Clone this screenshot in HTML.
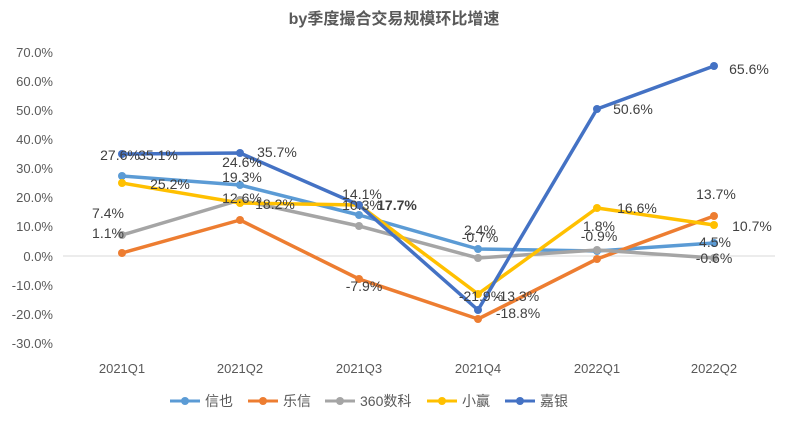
<!DOCTYPE html>
<html><head><meta charset="utf-8"><style>
body{margin:0;background:#fff}
svg text{font-family:"Liberation Sans","Noto Sans CJK SC",sans-serif}
</style></head><body>
<svg width="789" height="425" viewBox="0 0 789 425" xmlns="http://www.w3.org/2000/svg">
<rect width="789" height="425" fill="#fff"/>
<text x="394" y="24" text-anchor="middle" font-size="16" font-weight="bold" fill="#595959">by季度撮合交易规模环比增速</text>
<g font-size="13" fill="#595959" text-anchor="end">
<text x="53" y="57">70.0%</text><text x="53" y="86">60.0%</text><text x="53" y="115">50.0%</text><text x="53" y="144">40.0%</text><text x="53" y="173">30.0%</text><text x="53" y="202">20.0%</text><text x="53" y="231">10.0%</text><text x="53" y="261">0.0%</text><text x="53" y="290">-10.0%</text><text x="53" y="319">-20.0%</text><text x="53" y="348">-30.0%</text>
</g>
<line x1="63" y1="256" x2="775" y2="256" stroke="#d9d9d9" stroke-width="1"/>
<g font-size="13" fill="#595959" text-anchor="middle">
<text x="122" y="373">2021Q1</text><text x="240" y="373">2021Q2</text><text x="359" y="373">2021Q3</text><text x="478" y="373">2021Q4</text><text x="597" y="373">2022Q1</text><text x="714" y="373">2022Q2</text>
</g>
<g fill="none" stroke-width="3.5" stroke-linejoin="round">
<polyline stroke="#5B9BD5" points="122,176 240,185 359,215 478,249 597,251 714,243"/>
<polyline stroke="#ED7D31" points="122,253 240,220 359,279 478,319 597,259 714,216"/>
<polyline stroke="#A5A5A5" points="122,235 240,200 359,226 478,258 597,250 714,258"/>
<polyline stroke="#FFC000" points="122,183 240,203 359,205 478,294 597,208 714,225"/>
<polyline stroke="#4472C4" points="122,154 240,153 359,205 478,310 597,109 714,66"/>
</g>
<g fill="#5B9BD5"><circle cx="122" cy="176" r="4"/><circle cx="240" cy="185" r="4"/><circle cx="359" cy="215" r="4"/><circle cx="478" cy="249" r="4"/><circle cx="597" cy="251" r="4"/><circle cx="714" cy="243" r="4"/></g>
<g fill="#ED7D31"><circle cx="122" cy="253" r="4"/><circle cx="240" cy="220" r="4"/><circle cx="359" cy="279" r="4"/><circle cx="478" cy="319" r="4"/><circle cx="597" cy="259" r="4"/><circle cx="714" cy="216" r="4"/></g>
<g fill="#A5A5A5"><circle cx="122" cy="235" r="4"/><circle cx="240" cy="200" r="4"/><circle cx="359" cy="226" r="4"/><circle cx="478" cy="258" r="4"/><circle cx="597" cy="250" r="4"/><circle cx="714" cy="258" r="4"/></g>
<g fill="#FFC000"><circle cx="122" cy="183" r="4"/><circle cx="240" cy="203" r="4"/><circle cx="359" cy="205" r="4"/><circle cx="478" cy="294" r="4"/><circle cx="597" cy="208" r="4"/><circle cx="714" cy="225" r="4"/></g>
<g fill="#4472C4"><circle cx="122" cy="154" r="4"/><circle cx="240" cy="153" r="4"/><circle cx="359" cy="205" r="4"/><circle cx="478" cy="310" r="4"/><circle cx="597" cy="109" r="4"/><circle cx="714" cy="66" r="4"/></g>
<g font-size="14" fill="#404040" text-anchor="middle">
<text x="120" y="160">27.6%</text><text x="158" y="160">35.1%</text><text x="170" y="189">25.2%</text><text x="108" y="218">7.4%</text><text x="108" y="238">1.1%</text>
<text x="242" y="167">24.6%</text><text x="277" y="157">35.7%</text><text x="242" y="182">19.3%</text><text x="242" y="203">12.6%</text><text x="275" y="209">18.2%</text>
<text x="362" y="199">14.1%</text><text x="362" y="210">10.3%</text><text x="397" y="210" font-weight="bold">17.7%</text><text x="364" y="291">-7.9%</text>
<text x="480" y="235">2.4%</text><text x="480" y="242">-0.7%</text><text x="481" y="301">-21.9%</text><text x="517" y="301">-13.3%</text><text x="518" y="318">-18.8%</text>
<text x="599" y="231">1.8%</text><text x="599" y="241">-0.9%</text><text x="637" y="213">16.6%</text><text x="633" y="114">50.6%</text>
<text x="716" y="199">13.7%</text><text x="752" y="231">10.7%</text><text x="715" y="247">4.5%</text><text x="714" y="263">-0.6%</text><text x="749" y="74">65.6%</text>
</g>
<g font-size="14" fill="#595959">
<line x1="170" y1="401" x2="200" y2="401" stroke="#5B9BD5" stroke-width="3"/><circle cx="185" cy="401" r="4" fill="#5B9BD5"/><text x="205" y="406">信也</text>
<line x1="248" y1="401" x2="278" y2="401" stroke="#ED7D31" stroke-width="3"/><circle cx="263" cy="401" r="4" fill="#ED7D31"/><text x="283" y="406">乐信</text>
<line x1="325" y1="401" x2="355" y2="401" stroke="#A5A5A5" stroke-width="3"/><circle cx="340" cy="401" r="4" fill="#A5A5A5"/><text x="360" y="406">360数科</text>
<line x1="427" y1="401" x2="457" y2="401" stroke="#FFC000" stroke-width="3"/><circle cx="442" cy="401" r="4" fill="#FFC000"/><text x="462" y="406">小赢</text>
<line x1="505" y1="401" x2="535" y2="401" stroke="#4472C4" stroke-width="3"/><circle cx="520" cy="401" r="4" fill="#4472C4"/><text x="540" y="406">嘉银</text>
</g>
</svg>
</body></html>
